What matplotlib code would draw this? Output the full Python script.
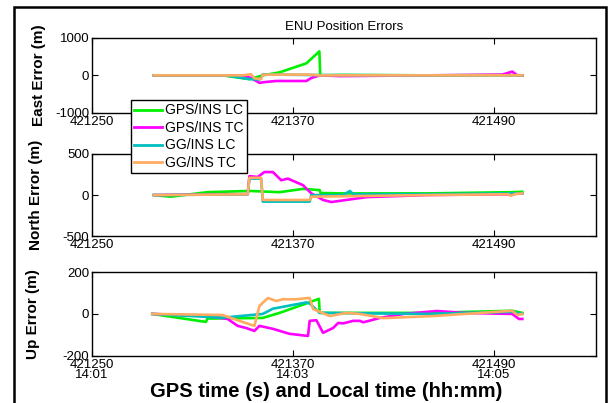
import matplotlib
matplotlib.use("Agg")
import matplotlib.pyplot as plt
from matplotlib.patches import Rectangle

plt.rcParams['font.family'] = ['Liberation Sans', 'DejaVu Sans']
plt.rcParams['axes.unicode_minus'] = False

# цвета серий
c_lc = '#00f000'
c_tc = '#ff00ff'
c_glc = '#00bfbf'
c_gtc = '#ffab60'

labels = ['GPS/INS LC', 'GPS/INS TC', 'GG/INS LC', 'GG/INS TC']
xticks = [421250, 421370, 421490]
xtick_labels_bottom = ['421250\n14:01', '421370\n14:03', '421490\n14:05']

# East
east_lc_t = [421287, 421328, 421344, 421352, 421362, 421378, 421385.8, 421386.3, 421400, 421450, 421500, 421507]
east_lc_v = [0, 0, -100, 0, 80, 320, 640, 0, 10, 0, 10, 0]
east_tc_t = [421287, 421340, 421345, 421350, 421353, 421360, 421378, 421381, 421386, 421398, 421450, 421495, 421501, 421504, 421507]
east_tc_v = [0, 0, -70, -200, -180, -150, -150, -70, 0, -20, 0, 20, 100, 0, 0]
east_glc_t = [421287, 421330, 421344, 421350, 421352, 421360, 421380, 421450, 421507]
east_glc_v = [0, 0, -100, -110, 30, 20, 10, 0, 0]
east_gtc_t = [421287, 421340, 421345, 421347, 421351, 421352, 421380, 421386, 421507]
east_gtc_v = [0, 0, 30, -80, -100, 20, 20, 0, 0]

# North
north_lc_t = [421287, 421297, 421319, 421344, 421362, 421376, 421386, 421386.5, 421400, 421450, 421501, 421507]
north_lc_v = [0, -20, 35, 50, 35, 75, 60, 25, 20, 20, 35, 40]
north_tc_t = [421287, 421320, 421343, 421344, 421349, 421353, 421358, 421363, 421367, 421376, 421381, 421388, 421393, 421414, 421450, 421500, 421507]
north_tc_v = [0, 10, 10, 230, 220, 280, 280, 180, 200, 120, 20, -60, -85, -25, 0, 10, 20]
north_glc_t = [421287, 421320, 421343, 421344, 421351, 421352, 421380, 421381, 421400, 421404, 421406, 421450, 421500, 421507]
north_glc_v = [0, 5, 10, 200, 200, -80, -80, 0, 0, 50, 10, 10, 20, 20]
north_gtc_t = [421287, 421320, 421343, 421344, 421351, 421352, 421380, 421381, 421450, 421499, 421500, 421503, 421507]
north_gtc_v = [0, 5, 10, 210, 210, -60, -60, -20, 0, 10, -10, 15, 20]

# Up
up_lc_t = [421286, 421318, 421319, 421344, 421352, 421362, 421378, 421385.5, 421386, 421400, 421450, 421501, 421507]
up_lc_v = [0, -38, -22, -20, -19, 5, 50, 72, 5, 5, 5, 15, 5]
up_tc_t = [421286, 421319, 421331, 421337, 421342, 421347, 421350, 421358, 421368, 421379, 421380, 421384, 421388, 421394,
           421397, 421400, 421406, 421410, 421412, 421422, 421436, 421456, 421472, 421501, 421505, 421507]
up_tc_v = [0, -10, -24, -57, -67, -81, -57, -71, -95, -105, -33, -30, -90, -67,
           -43, -45, -33, -33, -40, -19, 0, 14, 5, 0, -24, -24]
up_glc_t = [421286, 421328, 421352, 421358, 421378, 421380, 421386, 421450, 421501, 421507]
up_glc_v = [0, -18, 0, 25, 55, 50, 5, 0, 10, 0]
up_gtc_t = [421286, 421328, 421338, 421347, 421350, 421355, 421360, 421364, 421372, 421379, 421380, 421382, 421392,
            421402, 421410, 421424, 421454, 421482, 421501, 421504, 421507]
up_gtc_v = [0, -5, -33, -57, 38, 76, 62, 70, 70, 76, 76, 24, -10, 5, 0, -20, -10, 5, 15, -5, 0]

panels = [
    ('East Error (m)', [-1000, 0, 1000], -0.091,
     [(east_lc_t, east_lc_v), (east_tc_t, east_tc_v), (east_glc_t, east_glc_v), (east_gtc_t, east_gtc_v)]),
    ('North Error (m)', [-500, 0, 500], -0.097,
     [(north_lc_t, north_lc_v), (north_tc_t, north_tc_v), (north_glc_t, north_glc_v), (north_gtc_t, north_gtc_v)]),
    ('Up Error (m)', [-200, 0, 200], -0.103,
     [(up_lc_t, up_lc_v), (up_tc_t, up_tc_v), (up_glc_t, up_glc_v), (up_gtc_t, up_gtc_v)]),
]
colors = [c_lc, c_tc, c_glc, c_gtc]

fig = plt.figure(figsize=(6.09, 4.03), dpi=100)

# рамка вокруг рисунка
fig.patches.append(Rectangle((14 / 609, -0.02), 592 / 609, 1.0 - 7 / 403 + 0.02,
                             transform=fig.transFigure, fill=False, edgecolor='black', linewidth=1.8))

boxes = [(0.720, 0.906), (0.414, 0.618), (0.117, 0.325)]
axes = []
for i, (ylab, yt, lx, series) in enumerate(panels):
    b, t = boxes[i]
    ax = fig.add_axes([92 / 609, b, 504 / 609, t - b])
    for (tt, vv), c in zip(series, colors):
        ax.plot(tt, vv, color=c, linewidth=1.9)
    ax.set_xlim(421250, 421551)
    ax.set_ylim(yt[0], yt[-1])
    ax.set_yticks(yt)
    ax.set_yticklabels([str(v) for v in yt])
    ax.set_xticks(xticks)
    if i == 2:
        ax.set_xticklabels(xtick_labels_bottom, linespacing=0.85)
    else:
        ax.set_xticklabels([str(v) for v in xticks])
    ax.tick_params(direction='in', length=4, top=True, right=True, labelsize=9.5, pad=2)
    ax.set_ylabel(ylab, fontsize=11, fontweight='bold')
    ax.yaxis.set_label_coords(lx, 0.5)
    for s in ax.spines.values():
        s.set_linewidth(1.0)
    axes.append(ax)

axes[0].set_title('ENU Position Errors', fontsize=9.5, pad=6)
axes[2].set_xlabel('GPS time (s) and Local time (hh:mm)', fontsize=14.5, fontweight='bold')
axes[2].xaxis.set_label_coords(0.464, -0.31)

handles = axes[0].get_lines()
leg = fig.legend(handles, labels, loc='upper left', bbox_to_anchor=(131 / 609, 303 / 403),
                 borderaxespad=0, fancybox=False, edgecolor='black', framealpha=1,
                 fontsize=10, labelspacing=0.25, borderpad=0.25, handlelength=2.0,
                 handletextpad=0.2)
leg.get_frame().set_linewidth(1.0)
for ln in leg.get_lines():
    ln.set_linewidth(2)

fig.savefig('out.png', dpi=100)
